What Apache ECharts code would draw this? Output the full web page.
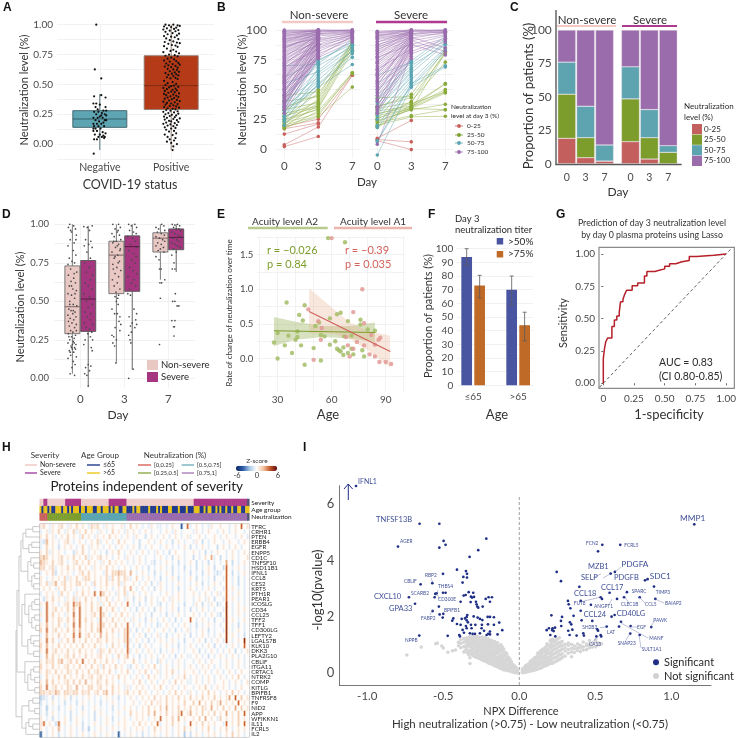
<!DOCTYPE html>
<html>
<head>
<meta charset="utf-8">
<style>html,body{margin:0;padding:0;background:#fff}#main{width:739px;height:738px}</style>
<script src="https://cdn.jsdelivr.net/npm/echarts@6/dist/echarts.min.js"></script>
</head>
<body>
<div id="main"></div>
<script>
// colours used in several panels
const RED = '#C8605C', GREEN = '#7C9D2C', TEAL = '#5CA5B2', PURPLE = '#9A6CAD'
const NAVY = '#1F2F86', FONT = 'Lato, "Open Sans", sans-serif'

// A: jitter as [offset from category, value]
const aBoxes = [[1, -0.05, 0.14, 0.21, 0.28, 0.42], [2, -0.05, 0.29, 0.49, 0.74, 1.0]]
const aNegative = [[-.05,1],[-.07,.625],[.02,.55],[-.085,-.08],[.02,.41],[-.08,.4],[.08,.39],[-.09,.34],[-.05,.34],[0,.33],[.08,.31],[-.06,.31],[-.03,.29],[.05,.28],[.09,.28],[-.08,.27],[-.02,.27],[.03,.26],[.07,.25],[-.05,.25],[.09,.24],[0,.23],[-.09,.22],[-.03,.22],[.04,.22],[.07,.2],[-.06,.2],[-.01,.19],[.05,.18],[-.09,.17],[-.04,.17],[.02,.17],[-.08,.15],[-.02,.15],[.06,.15],[-.06,.13],[.01,.13],[-.09,.11],[-.04,.11],[.04,.1],[.08,.09],[-.07,.08],[0,.08],[.05,.07],[.03,.06],[.07,.06],[-.02,.06],[.06,.05],[-.08,.04],[-.04,.04],[.09,.2],[-.09,.13],[.02,.24]]
const aPositive = [[-.08,1],[-.03,.995],[.03,1],[.09,.995],[.12,.99],[-.1,.985],[.0,.98],[.07,.975],[-.06,.97],[.04,.965],[-.11,.96],[.1,.955],[-.02,.95],[.06,.945],[-.08,.94],[.02,.93],[.11,.925],[-.05,.92],[.08,.91],[-.1,.905],[.0,.9],[.05,.895],[-.07,.885],[.1,.88],[-.02,.87],[.03,.86],[-.09,.855],[.08,.85],[.12,.845],[-.04,.84],[.01,.83],[.06,.825],[-.1,.82],[.09,.815],[-.06,.8],[.03,.79],[-.01,.78],[.07,.775],[-.11,.77],[.11,.76],[-.03,.75],[.05,.745],[-.08,.74],[.09,.735],[.0,.725],[-.05,.715],[.04,.71],[-.1,.7],[.07,.695],[-.02,.69],[.1,.68],[-.07,.675],[.02,.67],[.12,.665],[-.04,.66],[.06,.655],[-.09,.65],[.0,.645],[.09,.64],[-.05,.63],[.03,.625],[.08,.62],[-.02,.61],[.11,.605],[.05,.6],[-.08,.595],[.01,.59],[.07,.585],[-.04,.58],[.1,.575],[.03,.57],[-.06,.56],[.06,.555],[-.01,.55],[.09,.545],[-.1,.53],[.02,.52],[-.05,.51],[.07,.505],[-.08,.495],[.04,.49],[.0,.485],[.1,.48],[-.03,.475],[-.11,.47],[.06,.465],[-.06,.46],[.02,.455],[.08,.45],[-.09,.445],[.0,.44],[.05,.435],[-.04,.43],[.11,.425],[-.1,.42],[.03,.415],[-.07,.41],[.07,.405],[-.01,.4],[.1,.395],[-.05,.39],[.04,.385],[-.09,.38],[.01,.375],[.08,.37],[-.03,.365],[.12,.36],[-.11,.355],[.05,.35],[-.06,.345],[.0,.34],[.09,.335],[-.08,.33],[.03,.325],[-.02,.32],[.07,.315],[-.1,.31],[.11,.305],[-.05,.3],[.02,.295],[.06,.29],[-.07,.285],[-.01,.28],[.09,.275],[-.11,.27],[.04,.265],[-.04,.26],[.1,.255],[-.08,.25],[.01,.245],[.07,.24],[-.02,.235],[-.1,.23],[.05,.225],[-.06,.22],[.12,.215],[.03,.21],[-.09,.205],[.08,.2],[-.03,.195],[.0,.19],[.1,.185],[-.07,.18],[.05,.175],[-.11,.17],[-.01,.165],[.08,.16],[-.05,.155],[.03,.15],[-.09,.14],[.06,.135],[.0,.13],[-.07,.12],[.04,.11],[-.03,.105],[.07,.09],[-.09,.08],[.02,.075],[-.05,.06],[.06,.05],[-.02,.04],[.04,.03],[-.06,.02],[.0,.01],[.08,0],[.03,-.02],[.02,-.05]]

// B: day 0, day 3, optional day 7 per patient, grouped by day 3 class
const nsRed = [[2,10.5],[3.5,18.5,62],[12.5,21],[19,25,62],[17,22]]
const nsGreen = [[18,27,52],[20,28,64],[22,30,63],[17,32,64],[25,33],[23,34,82],[28,35,85],[30,36],[19,37,88],[24,38],[33,39,90],[27,40],[21,42,87],[40,44,90],[35,45],[26,47,84],[45,48],[32,50,90]]
const nsTeal = [[20,52,71],[28,54,77],[25,55,80],[30,57],[35,58,83],[40,60],[23,62,82],[32,64,85],[55,65],[38,66,88],[27,68],[45,70,86],[70,71],[42,72,92],[50,73],[36,74,90],[60,75,88],[33,53]]
const nsPurple = [[30,76],[34,77,90],[38,78],[40,78,95],[42,79],[44,80,92],[37,81],[46,82],[48,82,94],[50,83],[52,84,93],[54,85],[56,85,96],[58,86],[60,86],[61,87,94],[62,88],[63,88],[64,88,96],[65,89],[66,89],[67,90,95],[68,90],[70,91,97],[72,91],[74,92],[75,92,96],[76,92],[78,93],[80,93,98],[81,94],[82,94],[83,95,97],[85,95],[86,95],[88,96,98],[89,96],[90,96],[91,97,99],[92,97],[93,97,98],[94,98],[95,98],[96,98,100],[97,99],[98,99,99],[99,99],[100,100,100],[99,100],[97,100,99],[95,100],[92,99],[90,99,100],[85,98],[43,90],[41,85],[55,95],[47,92],[58,94],[36,88],[39,83],[49,87],[53,91],[57,80],[59,97],[69,84],[71,94],[73,88],[77,96],[79,90],[84,97],[87,93],[33,79],[45,76],[51,78]]
const sRed = [[8,6],[7,-0.5],[9,24]]
const sGreen = [[20,27,27.5],[22,28,33],[24,33,37.5],[26,34,47],[28,34,33],[30,35,48],[32,36,50],[19,37,54.5],[34,39,82],[25,40,73],[36,43,80],[35,46,84],[43,44],[23,33,81],[29,38,48],[18,35,55]]
const sTeal = [[-5,52,69],[7,55,70],[18,52,82],[6,54,84],[20,56],[25,58,85],[30,60],[28,62],[33,64,88],[35,65],[38,67,90],[42,68],[45,70,88],[50,72,92],[62,73],[55,74],[40,74,95]]
const sPurple = [[4,80],[30,76],[33,78],[36,80,90],[42,81],[45,82,92],[48,83],[50,84],[52,85,93],[55,86],[58,87],[60,88,95],[62,88,79],[64,89],[66,90],[68,90],[70,91,96],[72,91,82],[74,92],[76,92],[78,93,98],[80,93],[82,94,85],[84,94],[86,95,97],[88,95],[90,96,99],[92,96],[93,97],[94,97,98],[95,98],[96,98],[97,99,100],[98,99],[99,100,100],[98,100],[95,100,99],[90,99,98],[85,98],[80,97,100],[31,85],[35,91],[40,87],[47,90],[53,95],[57,92],[63,96],[67,84],[73,96],[77,88],[83,98],[87,99]]

// C
const cDays = ['0', '3', '7']
const cNsValues = [[19, 4.5, 2], [33, 15, 0], [24, 23.5, 12], [24, 57, 86]]
const cSevValues = [[16.5, 3.5, 0], [32, 16, 8.5], [24, 21, 5], [27.5, 59.5, 86.5]]
const cLevels = ['0-25', '25-50', '50-75', '75-100']

// D: [day index + dodge, whisker low, q1, median, q3, whisker high]
const dBoxesNs = [[-.18,.03,.29,.465,.73,1],[.82,.105,.55,.8,.89,1],[1.82,.64,.82,.91,.945,1]]
const dBoxesSev = [[.18,-.05,.305,.515,.765,.99],[1.18,.06,.565,.855,.925,1],[2.18,.69,.835,.915,.97,1]]
const dNs0 = [[-.06,1],[.03,.99],[-.09,.98],[.07,.97],[-.02,.95],[.09,.93],[-.05,.9],[.04,.88],[-.1,.86],[.02,.83],[.08,.8],[-.07,.78],[-.01,.76],[.05,.75],[-.04,.71],[.1,.69],[-.09,.67],[.03,.65],[-.03,.63],[.07,.62],[-.07,.6],[.01,.58],[.09,.57],[-.1,.55],[-.02,.54],[.05,.52],[-.06,.5],[.02,.48],[.1,.47],[-.08,.45],[-.03,.44],[.06,.43],[.01,.42],[-.1,.41],[.08,.4],[-.05,.39],[.03,.38],[-.01,.36],[.09,.35],[-.07,.34],[.05,.33],[-.04,.31],[.01,.3],[-.09,.29],[.07,.28],[-.02,.27],[.04,.26],[-.06,.25],[.02,.24],[-.1,.23],[.08,.22],[-.03,.21],[.05,.2],[.0,.19],[-.07,.18],[.03,.17],[-.04,.15],[.09,.14],[-.1,.13],[.02,.11],[.06,.09],[-.01,.07],[-.05,.03],[.05,.02],[-.08,.27],[.04,.23],[-.02,.2],[.07,.19],[-.05,.17],[.0,.22],[.09,.31],[-.09,.37],[.02,.44],[-.06,.48],[.06,.55],[-.02,.6],[.04,.68],[-.1,.74],[.08,.9],[-.04,.96]]
const dSev0 = [[-.1,.985],[-.02,.98],[.09,.99],[.03,.96],[-.06,.9],[.06,.89],[.01,.87],[-.09,.86],[.09,.85],[-.03,.82],[.05,.78],[-.08,.75],[.02,.72],[-.04,.69],[.1,.67],[.05,.64],[-.07,.62],[.0,.6],[.08,.58],[-.1,.55],[.03,.53],[-.04,.5],[.09,.48],[.0,.46],[-.07,.43],[.06,.42],[-.02,.4],[.04,.38],[-.09,.36],[.1,.35],[-.05,.33],[.03,.32],[.08,.3],[-.01,.29],[.05,.27],[-.07,.25],[.1,.25],[-.1,.22],[.07,.2],[.09,.18],[.0,.09],[.06,.08],[-.06,.07],[.03,.05],[-.08,.03],[-.03,.02],[.0,-.05]]
const dNs3 = [[-.08,1],[.05,1],[.09,.98],[-.03,.97],[.02,.95],[-.1,.94],[.07,.93],[-.05,.92],[.1,.9],[.0,.89],[-.08,.88],[.05,.87],[-.02,.85],[.09,.84],[-.1,.82],[.03,.8],[-.05,.78],[.07,.76],[-.08,.74],[.01,.72],[.1,.7],[-.03,.68],[.05,.66],[-.09,.64],[.02,.62],[-.05,.6],[.08,.58],[-.01,.56],[.05,.54],[-.03,.53],[.03,.52],[.0,.5],[.04,.48],[-.1,.45],[-.04,.42],[.02,.42],[.08,.4],[.06,.37],[.1,.35],[-.03,.33],[.08,.31],[-.1,.28],[-.06,.27],[.0,.25],[-.08,.23],[-.04,.21],[-.01,.1],[.04,.96],[-.06,.89],[.02,.86],[.08,.83],[-.03,.79],[.04,.75],[-.07,.71]]
const dSev3 = [[-.08,1],[-.02,.99],[.06,1],[.1,.98],[-.06,.96],[.03,.95],[.09,.94],[-.1,.92],[.01,.91],[.07,.89],[-.04,.87],[.1,.85],[-.08,.83],[.03,.81],[.09,.79],[-.01,.77],[.06,.75],[-.06,.72],[.02,.7],[.1,.68],[-.1,.66],[.04,.64],[-.02,.62],[.08,.6],[-.06,.58],[-.1,.55],[-.04,.54],[.04,.45],[.1,.42],[-.07,.4],[.08,.38],[.0,.36],[.1,.35],[-.04,.34],[.06,.33],[-.02,.3],[-.08,.28],[-.05,.25],[-.03,.23],[.02,.06],[-.08,0]]
const dNs7 = [[-.1,.98],[.03,1],[.08,.99],[-.04,.97],[.1,.96],[-.07,.95],[.02,.94],[.09,.93],[-.1,.92],[-.02,.91],[.05,.9],[.1,.89],[-.06,.88],[.02,.87],[-.1,.86],[.07,.85],[.0,.84],[-.05,.83],[.08,.82],[-.1,.79],[-.03,.77],[.02,.71],[-.02,.71],[.1,.64],[-.01,.62],[.03,.62],[.0,.52],[-.02,.22]]
const dSev7 = [[-.09,1],[-.03,.995],[.03,1],[.08,.99],[-.06,.98],[.0,.97],[.06,.97],[.1,.96],[-.1,.95],[-.03,.94],[.04,.93],[.09,.92],[-.07,.91],[.01,.9],[.06,.89],[-.1,.88],[-.03,.87],[.03,.86],[.09,.85],[-.06,.84],[.0,.82],[-.1,.8],[-.05,.75],[-.03,.71],[-.09,.71],[-.02,.55],[-.08,.5],[-.03,.5],[.02,.47],[.06,.47],[-.1,.375],[-.03,.375],[-.06,.335],[-.04,.335],[-.05,.275]]

// E: age, rate
const eGreen = [[58,1.74],[67.4,1.68],[35,.81],[45,.77],[42,.63],[44,.55],[28,.23],[30,.37],[34,.19],[36,.33],[38,.08],[30,0],[40,.27],[41,.39],[41,.31],[43,.19],[50,.15],[45,-.09],[54,-.03],[51,.47],[53,.52],[59,.58],[63,.64],[65,.66],[59,.2],[63,.14],[64,.12],[65,.1],[66.5,.16],[66.5,.05],[69,.08],[69,.54],[71,.14],[72,.06],[76,.56],[76,.49],[77,.12],[78,.03],[80,.42],[84,.4],[62,.25],[67,.32],[71,.33],[54,.34],[56,.32]]
const eRed = [[60,1.74],[77,1],[47,.71],[72,.67],[78,.51],[50,-.02],[54,.27],[69,.19],[72,.14],[70,.03],[84,.03],[86.5,-.05],[90,-.05],[93,-.08],[81,.06],[87,.3],[86,.27],[84,.2],[78,.19],[74,.24],[68,.31],[52.5,.54],[54.5,.44],[82,.34]]
const eGreenLine = [[28,.4],[84,.375]]
const eRedLine = [[47.5,.68],[92.5,.1]]
const eGreenBand = [[28,.18,.6],[40,.27,.53],[55,.31,.47],[70,.29,.47],[84,.24,.52]]
const eRedBand = [[47.5,.36,1.01],[60,.36,.74],[70,.28,.52],[80,.12,.4],[92.5,-.13,.33]]

// F
const fGroups = [1, 2]
const fOver50 = [94, 70]
const fOver75 = [73, 44]
const fOver50Err = [[88,100],[59,80]]
const fOver75Err = [[64,80.5],[32.5,53.5]]

// G
const rocPath = [[0,0],[0,.19],[.01,.19],[.01,.27],[.02,.27],[.02,.32],[.035,.32],[.035,.35],[.07,.35],[.07,.44],[.09,.44],[.09,.49],[.11,.49],[.11,.52],[.13,.52],[.13,.55],[.14,.55],[.14,.63],[.16,.63],[.16,.65],[.175,.65],[.175,.69],[.19,.69],[.19,.72],[.235,.72],[.235,.755],[.28,.755],[.28,.775],[.335,.775],[.335,.83],[.355,.83],[.355,.865],[.42,.865],[.42,.87],[.44,.87],[.44,.885],[.5,.885],[.5,.905],[.54,.905],[.54,.925],[.59,.925],[.59,.94],[.64,.94],[.64,.95],[.7,.95],[.7,.98],[.76,.98],[.76,.99],[.9,.99],[.9,1],[1,1]]

// H
const heatProteins = ['TFRC','CRHR1','PTEN','ERBB4','EGFR','ENPP5','CD1C','TNFSF10','HSD11B1','IFNL1','CCL8','CES2','KRT5','PTH1R','PEAR1','ICOSLG','CD34','CCL25','TFF2','TFF1','CD300LG','LEFTY2','LGALS7B','KLK10','DKK3','PLA2G10','CBLIF','ITGA11','CRTAC1','NTRK2','COMP','KITLG','BPIFB1','TNFRSF8','F9','NID2','APP','WFIKKN1','IL11','FCRL5','IL2']
const heatScale = {'.':0.15, a:.9, b:1.7, c:2.6, d:4, e:5.2, x:-.7, y:-1.3, z:-2, w:-5}
const heatRows = [
"ab.xa.ab.x a.b.a.xbab .xa.a..ax. b.a.x.xa.x x.x.a..w.d x.a.x.xa.. a..x.a.d.a",
"x.axa.b.xa .bxa.b.a.x a.x.b.a.xa .a.x.a.x.. x.a.xa.x.. .xa.x.a..x .a.x.a..x.",
"a.b.ax.a.b .a.xb.a.xa .a.b.a.x.a .xa..y.a.x .a.x.a.x.a x..a.x..a. x.a..x.a.x",
"xyc.a.x.ab .x.a.x.a.b x.a.x.b.a. .x.y..a.x. a.x.y.a.x. .xa.y.x.a. .x.a..x.a.",
"x.b.a.y.a. a.x.b.xa.a .x.a.x.a.x .a.y.x.a.. x.a.x.x.a. y.x.a.x..y .a.x.a.x..",
"a.bxa.a.x. .ya.b.x.a. x.y.a.b.x. a.x.a.x.xa .x.y.a..x. .a.x.y.x.a ..x.a.x.a.",
"bcb.a.ab.a .b.a.bxa.a b.a.x.a.xa .x.a.x..x. a.x.y.a.x. .y.x.a.cx. y.x.a.x..a",
"cba.b.ab.x .ab.a.b.a. xa.b.a.a.x .x.a.x.xy. x.a.x.y.x. a.y.x.y.x. x.c.y.x.a.",
"bb.abx.a.b .a.b.a.xa. a.b.a.x.a. x.a.x.y.x. a.x.y.x.y. x.y.x.a.y. .yd.x.a.x.",
"x.a.by.a.a .x.ab.b.a. .xb.bbcbb. c.x.a.x.y. x.a.y.x.x. y.x.y.a.xy x.d.y.x.a.",
"a.x.a.a.bx a.b.abb.a. a.bxb.b.ba x.b.x.a.x. y.x.a.y.x. a.y.x.x.y. .xd.x.y.x.",
"a.bxac.ab. a.bb.a.xb. a.b.a.bxa. .a.x.a.y.x a.x.x.a.x. x.a.y.x.a. x.d.x.y.x.",
".a.a.xa.b. a.x.a.a.x. a.a.x.a.b. c.x.a.x.y. a.x.x.y.x. a.x.x.a.x. .xd.a.x.x.",
"x.a.a.xb.a .xa.b.a.d. db.a.xa.bx .a.x.a.x.. x.a.x.a.x. .a.x.a.x.a x.d.x.a.x.",
".ya.b.a.xa .bxa.b.a.x a.b.x.a.xa .y.a.y.a.x .a.xa.a.x. .x.a.xa.y. .xd.a.x.x.",
"a.d.a.x.ab .dbc.a.b.a xa.b.a.a.d .x.y.x.a.x y.x.a.x.y. .xa.y.xa.y x.e.x.a.x.",
"x.d.ab.a.b .c.d.a.b.a d.a.b.x.a. x.y.a.x.y. a.x.a.y.x. y.x.a.x.x. .xe.x.a.a.",
"a.d.b.a.xa .d.d.a.ab. db.x.a.b.a .x.a.x.y.. x.y.x.a.x. .a.x.x.a.x y.e.x.a.x.",
"x.d.a.ba.b .c.d.b.a.x d.a.b.a.a. xa.x.y.a.x .a.x.y.x.. d.x.a.x.y. .xe.a.x.a.",
"a.c.a.b.xa .d.d.a.b.a db.a.b.a.d .x.a.x.x.y x.a.x.x.a. x.y.x.a.x. x.e.x.y.x.",
"b.d.ab.a.b .c.c.a.b.b d.a.b.a.bd x.y.x.a.x. .a.x.y.x.a x.x.a.y.x. .xe.x.a.x.",
"x.c.a.b.a. .d.d.ab.a. c.b.a.x.bd .x.a.y.x.a x.y.x.a.x. y.x.a.x.x. a.e.a.x.y.",
"a.d.b.xa.b .c.a.b.a.b a.b.a.a.bd x.a.x.y.x. a.x.a.x.y. .x.a.y.x.a .xe.x.a.e.",
"b.c.a.b.a. a.a.b.a.b. a.x.b.a.xd .x.y.a.x.. x.a.x.y.x. a.x.x.a.y. x.x.a.x.d.",
"a.d.ab.a.b .a.b.a.a.x ba.b.a.a.d x.a.x.a.x. y.x.a.x.x. .a.y.x.a.x .x.a.y.x.a",
"x.c.b.a.ab .b.a.b.a.a b.a.x.b.ac .x.y.x.a.x .a.x.y.a.x x.a.x.y.x. a.x.a.x.x.",
"a.bab.bc.a b.b.d.a.b. a.b.a.x.a. .b.x.a.x.y a.x.x.a.x. .x.a.x.a.. x.a.x.a.x.",
"b.a.b.a.ab .a.b.a.b.a xb.a.b.a.x y.a.x.a.b. x.a.x.a.x. a.x.a.a.x. x.a.x.a.x.",
"a.ba.b.a.b a.b.a.b.ab .a.b.x.a.b .x.a.b.x.a x.a.b.x.a. .a.x.a.x.a .x.a.x.a..",
"x.b.a.b.b. a.a.b.ab.a b.a.a.b.a. x.a.x.b.a. x.a.x.a.b. x.a.x.a.x. a.x.a.b.x.",
"a.c.b.a.ab .b.b.c.a.b a.b.a.x.a. .a.b.x.a.x .a.x.b.a.x x.a.x.a.x. .a.x.a.x.a",
"b.d.ab.a.b a.c.a.bb.a b.a.b.a.xa x.a.a.x.a. b.x.a.x.a. .x.a.b.x.a .a.x.x.a..",
"bbabacb.bb abb.bab.ab .bc.b.a.ab .a.b.a.x.a .x.a.b.a.x a.x.a.b.a. x.a.b.a.x.",
"zyx.y.x.a. y.x.x.a.x. x.a.x.y.x. a.x.a.a.b. a.b.a.b.a. b.a.b.a.b. a.ac.d.b.a",
"y.x.a.x.y. x.y.a.x.x. y.x.a.x.x. .a.x.a.b.a a.b.a.a.b. .b.c.a.b.a c.a.a.d.a.",
"x.z.x.y.x. a.x.y.x.a. x.x.y.x.a. a.x.a.b.a. b.c.a.b.a. b.a.ba.c.a .b.a.c.b.a",
"x.y.a.x.x. y.x.a.x.y. a.x.x.a.x. b.a.a.b.c. a.b.a.bd.a c.a.b.a.b. a.c.a.b.d.",
"a.x.y.x.a. y.a.x.x.y. x.a.y.x.a. x.a.a.x.a. d.a.b.c.a. .a.b.c.a.x b.a.a.b.a.",
"ad.a.yd.a. x.a.y.x.a. x.a.x.a.a. .a.b.a.a.d x.a.b.a.x. d.a.b.a.a. .xd.a.b.d.",
"a.x.a.c.x. a.x.y.z.x. a.x.a.x.a. x.a.a.x.b. a.a.x.a.b. a.x.a.b.x. a.b.x.a.a.",
"w.x.a.y.x. a.x.a.x.a. x.a.x.w.x. a.x.y.x.a. x.a.x.a.z. y.a.x.a.a. x.a.b.a.x."
]
const annRows = ['Severity', 'Age group', 'Neutralization']
const annSeverity = [['p',2],['m',2],['p',9],['m',8],['p',14],['m',9],['p',34],['m',27]]
const annNeutral = [['r',4],['g',17],['t',23],['v',61]]
const annAge = 'ynyynynnyyynyynynyyynyynyyynnyynyyynynyynnyynnnynyynnnnynnnynynnnyynnnynnnynnnyyynnynyynnynynnynnynnyynnyy'
const annColors = {p:'#EFCDCB', m:'#AE3A88', y:'#E9C31C', n:'#1F3A8C', r:RED, g:GREEN, t:TEAL, v:PURPLE}
// dendrogram brackets: row a, height a, row b, height b, merge height
const dendro = [[0,0,1,0,7],[.5,7,2,0,14],[3,0,4,0,8],[3.5,8,5,0,11],[1.25,14,4.25,11,17],[7,0,8,0,6],[6,0,7.5,6,9],[9,0,10,0,5],[11,0,12,0,6],[9.5,5,11.5,6,8],[6.75,9,10.5,8,12],[2.75,17,8.6,12,19],[14,0,15,0,5],[14.5,5,16,0,8],[17,0,18,0,5],[19,0,20,0,4],[17.5,5,19.5,4,8],[15.25,8,18.5,8,11],[13,0,16.9,11,15],[22,0,23,0,6],[21,0,22.5,6,9],[24,0,25,0,6],[21.75,9,24.5,6,12],[15,15,23,12,18],[5.7,19,19,18,21],[27,0,28,0,6],[29,0,30,0,5],[27.5,6,29.5,5,9],[31,0,32,0,5],[28.5,9,31.5,5,12],[26,0,30,12,15],[12.3,21,28,15,23],[33,0,34,0,7],[35,0,36,0,5],[33.5,7,35.5,5,11],[38,0,39,0,7],[37,0,38.5,7,11],[37.75,11,40,0,14],[34.5,11,38.8,14,18],[20,23,36.6,18,24]]

// I: significant proteins
const volcSig = [[-1.074,6.65],[-.656,5.31],[-.526,5.31],[-.798,4.5],[-.498,4.7],[-.485,4.56],[-.526,4.46],[-.217,4.78],[-.27,4.37],[-.327,4.13],[-.502,3.53],[-.41,3.68],[-.351,3.63],[-.344,3.53],[-.344,3.4],[-.368,3.42],[-.373,3.22],[-.649,3.16],[-.572,3.2],[-.544,2.84],[-.553,2.82],[-.502,2.86],[-.485,2.86],[-.557,2.7],[-.726,2.7],[-.686,2.47],[-.57,2.21],[-.529,2.37],[-.524,2.09],[-.5,2.11],[-.504,1.98],[-.658,1.34],[-.471,1.33],
[-.366,2.76],[-.353,2.78],[-.333,2.88],[-.318,2.72],[-.303,2.86],[-.298,2.71],[-.311,2.69],[-.386,2.54],[-.32,2.53],[-.285,2.54],[-.276,2.37],[-.241,2.37],[-.221,2.64],[-.202,2.7],[-.18,2.7],[-.193,2.54],[-.281,2.45],[-.27,2.33],[-.342,2.07],[-.346,2],[-.357,1.95],[-.434,1.95],[-.441,1.87],[-.379,1.93],[-.346,1.88],[-.338,1.81],[-.3,2.02],[-.274,1.98],[-.259,1.93],[-.243,1.89],[-.208,2],[-.193,2],[-.167,1.99],[-.132,1.8],[-.246,1.72],[-.206,1.74],[-.167,1.72],[-.112,1.53],[-.41,1.75],[-.386,1.72],[-.351,1.68],[-.318,1.72],[-.373,1.54],[-.364,1.44],[-.325,1.42],[-.307,1.4],[-.292,1.4],[-.259,1.42],[-.215,1.36],[-.204,1.4],[-.193,1.38],[-.143,1.38],[-.395,1.36],[-.39,1.31],[-.314,1.6],[-.346,1.6],[-.248,1.6],[-.289,1.72],[-.232,1.51],[-.193,1.48],
[1.151,5.29],[.546,4.56],[.518,4.33],[.664,4.56],[.246,3.6],[.274,3.27],[.601,3.54],[.629,3.6],[.827,3.3],[.844,3.34],[.886,3.08],[.395,3.07],[.594,2.86],[.708,2.88],[.689,2.7],[.792,2.7],[.895,2.64],[.535,2.7],[.544,2.64],[.643,2.64],[.32,2.57],[.325,2.45],[.404,2.57],[.471,2.43],[.336,2.31],[.404,2.22],[.211,2.06],[.357,2.04],[.281,2],[.274,1.86],[.41,1.88],[.48,1.86],[.607,2.01],[.627,2.07],[.333,1.81],[.342,1.74],[.276,1.68],[.669,1.83],[.732,1.68],[.656,1.66],[.575,1.66],[.868,1.64],[.513,1.56],[.518,1.51],[.195,1.6],[.18,1.53],[.219,1.6],[.235,1.62],[.217,1.53],[.226,1.5],[.204,1.36],[.237,1.31],[.322,1.51],[.349,1.55],[.331,1.36],[.377,1.34],[.421,1.42],[.425,1.34],[.507,1.31],[.535,1.36],[.539,1.31],[.73,1.41],[.792,1.36]]
// not significant: x followed by the y values read at that x
const volcGray = [
[-.74,.65],[-.645,.93],[-.55,1.05],[-.54,1.07],[-.51,.97],[-.5,.9],[-.47,.75],[-.44,.8],[-.42,.83],
[-.4,1.1,.98],[-.385,.91,1.06,1.19],[-.365,.76,.94,1.1,1.23],[-.345,.74,.91,1.03,1.14,1.26],[-.325,.35,.55,.71,.83,.96,1.09,1.21,1.3],[-.305,.63,.76,.87,1.01,1.13,1.24,1.33],
[-.285,.57,.71,.83,.94,1.07,1.19,1.31],[-.262,.53,.64,.79,.91,1.03,1.15,1.25],[-.243,.47,.61,.73,.85,.97,1.07,1.21,1.29],[-.222,.43,.54,.67,.81,.93,1.05,1.15,1.26],[-.203,.37,.51,.63,.73,.87,.99,1.09,1.22],
[-.183,.33,.44,.59,.71,.81,.95,1.07,1.17],[-.162,.27,.41,.52,.65,.75,.89,1,1.13],[-.143,.23,.34,.47,.57,.71,.83,.94,1.08],[-.121,.17,.29,.39,.53,.64,.79,.9,1.01],[-.103,.13,.23,.36,.47,.61,.71,.86],
[-.082,.1,.21,.29,.43,.54,.69],[-.061,.08,.16,.25,.37,.51],[-.042,.05,.11,.23,.31],[-.02,.02,.09,.2],
[.02,.02,.08,.15],[.041,.04,.11,.17,.27],[.062,.07,.14,.25,.33],[.083,.09,.19,.27,.38,.46],[.102,.12,.21,.34,.43,.56],[.121,.15,.28,.37,.51,.61,.71],
[.143,.19,.33,.43,.57,.67,.81],[.161,.25,.35,.49,.59,.75,.87],[.182,.29,.43,.54,.69,.81,.97,1.05],[.203,.35,.47,.61,.74,.91,1.01,1.16],[.221,.37,.53,.67,.83,.95,1.11,1.21],[.242,.43,.57,.73,.87,1.03,1.17],
[.263,.49,.66,.79,.96,1.09,1.26],[.282,.56,.69,.86,.99,1.13],[.301,.61,.79,.91,1.03],[.322,.71,.84,.99,1.07],[.344,.59,.76,.89,1.03],[.362,.74,.87,.97],[.383,.81,.91,1.04],
[.402,.77,.91,.99],[.421,.83,.94,1.11],[.443,.84,.98,1.04],[.462,.91,1.01,1.16],[.481,.93,1.05],[.503,.94,1.11,1.19],[.522,1.01,1.07],[.541,1.05],
[-.352,.83,.97,1.18],[-.333,.66,.79,1,1.12,1.24],[-.314,.68,.81,.93,1.06,1.18,1.28],[-.295,.6,.73,.9,1.04,1.16,1.27],[-.274,.55,.67,.77,.88,.99,1.11,1.23,1.3],[-.252,.5,.6,.7,.82,.93,1.05,1.17,1.27],[-.232,.45,.57,.69,.76,.89,1.01,1.11,1.24],[-.212,.4,.48,.59,.71,.84,.96,1.07,1.19],[-.193,.35,.47,.55,.67,.78,.91,1.03,1.13],[-.172,.3,.39,.49,.62,.73,.85,.97,1.1],[-.152,.25,.37,.45,.56,.69,.79,.91,1.03],[-.132,.2,.31,.43,.51,.61,.74,.85,.97],[-.112,.15,.26,.33,.44,.55,.67,.8,.93],[-.092,.12,.18,.27,.39,.5,.63,.75],[-.072,.09,.17,.24,.33,.46,.58],[-.052,.06,.13,.19,.28,.41],[-.031,.03,.08,.16,.26],[-.012,.01,.05,.12],
[.031,.03,.09,.2],[.052,.06,.13,.21,.3],[.072,.08,.16,.25,.34,.42],[.092,.1,.2,.3,.41,.5],[.112,.14,.25,.36,.47,.58],[.132,.17,.3,.41,.53,.65,.75],[.152,.22,.34,.46,.58,.71,.84],[.172,.27,.39,.52,.64,.78,.92],[.192,.32,.45,.57,.71,.85,.99],[.212,.36,.5,.64,.78,.93,1.06,1.19],[.232,.4,.55,.7,.85,.99,1.14],[.252,.46,.61,.76,.91,1.06,1.22],[.272,.52,.67,.82,.97,1.1]]

// labels on the volcano plot, page position
const volcLabels = [['TNFSF13B',376,520,7.5],['AGER',400,541,4.8],['CBLIF',404,581,4.8],['RBP2',425,575,4.8],['THBS4',438,586.7,4.8],['SCARB2',411,593,4.8],['CD300E',438,599,4.8],['CXCL10',374,596.7,7.5],['GPA33',389,609,7.5],['BPIFB1',444,610,4.8],['FABP2',421,618.7,4.8],['NPPB',405,640.7,4.8],['IFNL1',358,481.7,7],
['MMP1',680,518.3,8.3],['FCN2',586,543.7,4.8],['FCRL5',624.3,545,4.8],['MZB1',588,567,7.5],['PDGFA',621.3,564,8.3],['SELP',581,578,7.5],['PDGFB',614,578,7.5],['SDC1',649.7,576,8.3],['CCL17',601,587.3,7.5],['SPARC',631.7,591,4.8],['TIMP3',655.7,592,4.8],['CCL18',574,594,7.5],['FUT8',573.7,603,4.8],['ANGPT1',594,606,4.8],['CLEC1B',621,604.3,4.8],['CCL5',645,604.3,4.8],['BAIAP2',665,603.3,4.8],['CCL24',583.7,615,7.5],['CD40LG',616.7,613.7,7.5],['PAWK',653.3,620.3,4.8],['SH2B3',582.3,627.7,4.8],['EGF',637,627,4.8],['LAT',607,632,4.8],['MANF',649.3,638.3,4.8],['CA13',589,644,4.8],['SNAP23',617.7,643.3,4.8],['SULT1A1',641.7,649.7,4.8]]
const volcLeaders = [[615,572,621,567],[610,574,603,578],[601,574,593,577.5],[601,597,580,602],[612,599,609,605],[625,597,629,603],[639,597,645,603],[655,599,664,603],[621,623,648,638],[631,627,637,627],[651,627,654,621],[639,635,641,648],[630,633,625,642],[600,635,591,643],[607,627,600,627.5],[433,583,431,578],[436,596,438,590],[433,609,430,615],[440,599,436,593]]

const chart = echarts.init(document.getElementById('main'), null, {width: 739, height: 738})
const grids = [], xAxes = [], yAxes = [], series = [], gfx = []

function addGrid(x1, y1, x2, y2, opt) {
    grids.push(Object.assign({left: x1, top: y1, width: x2 - x1, height: y2 - y1}, opt || {}))
    return grids.length - 1
}
function valAxis(gi, min, max, lines, labels, fmt, size, margin, opt) {
    return Object.assign({
        type: 'value', gridIndex: gi, min, max, axisLine: {show: false},
        axisTick: {show: false, customValues: lines},
        splitLine: {show: true, lineStyle: {color: '#EFEFEF', width: 0.8}},
        axisLabel: {customValues: labels, formatter: fmt, fontSize: size, margin, color: '#4A4A4A', fontFamily: FONT}
    }, opt || {})
}
function T(x, y, text, size, color, align, rot, weight, family) {
    gfx.push({type: 'text', x, y, rotation: rot || 0, silent: true, z: 50, style: {
        text, fontSize: size, fill: color || '#2A2A2A', align: align || 'left', verticalAlign: 'middle',
        fontFamily: family || FONT, fontWeight: weight || 'normal'}})
}
function rule(x1, y1, x2, y2, color, width) {
    gfx.push({type: 'line', silent: true, z: 40, shape: {x1, y1, x2, y2}, style: {stroke: color, lineWidth: width}})
}
function rect(x, y, w, h, color) {
    gfx.push({type: 'rect', silent: true, z: 40, shape: {x, y, width: w, height: h}, style: {fill: color}})
}
function dot(x, y, r, color) {
    gfx.push({type: 'circle', silent: true, z: 40, shape: {cx: x, cy: y, r}, style: {fill: color}})
}
// box with whisker and no caps, values come through the axes
function boxSeries(gi, data, fill, stroke, medColor, px, zOrder) {
    series.push({
        type: 'custom', coordinateSystem: 'cartesian2d', xAxisIndex: gi, yAxisIndex: gi, silent: true, z: zOrder || 2,
        clip: false, data,
        encode: {x: 0, y: [1, 2, 3, 4, 5]},
        renderItem(params, api) {
            const i = params.dataIndex
            const x = api.value(0)
            const lo = api.coord([x, api.value(1)]), q1 = api.coord([x, api.value(2)]), med = api.coord([x, api.value(3)])
            const q3 = api.coord([x, api.value(4)]), hi = api.coord([x, api.value(5)])
            const f = Array.isArray(fill) ? fill[i] : fill, s = Array.isArray(stroke) ? stroke[i] : stroke
            const m = Array.isArray(medColor) ? medColor[i] : medColor
            return {type: 'group', children: [
                {type: 'line', shape: {x1: lo[0], y1: lo[1], x2: hi[0], y2: hi[1]}, style: {stroke: s, lineWidth: 0.9}},
                {type: 'rect', shape: {x: q3[0] - px / 2, y: q3[1], width: px, height: q1[1] - q3[1]}, style: {fill: f, stroke: s, lineWidth: 0.9}},
                {type: 'line', shape: {x1: med[0] - px / 2, y1: med[1], x2: med[0] + px / 2, y2: med[1]}, style: {stroke: m, lineWidth: 0.9}}
            ]}
        }
    })
}
function scatter(gi, data, color, size, opacity) {
    series.push({type: 'scatter', xAxisIndex: gi, yAxisIndex: gi, data, silent: true, clip: false, z: 3, symbolSize: size,
        itemStyle: {color, opacity: opacity === undefined ? 1 : opacity}})
}
function ribbon(gi, band, color) {
    series.push({type: 'custom', coordinateSystem: 'cartesian2d', xAxisIndex: gi, yAxisIndex: gi, silent: true, z: 2, data: [band[0]],
        renderItem(params, api) {
            const up = band.map(b => api.coord([b[0], b[2]]))
            const dn = band.slice().reverse().map(b => api.coord([b[0], b[1]]))
            return {type: 'polygon', shape: {points: up.concat(dn)}, style: {fill: color, opacity: 0.3}}
        }})
}

// ---- A ----
let g = addGrid(57, 24.7, 214, 159)
xAxes.push(valAxis(g, 0.4, 2.6, [1, 2], [1, 2], v => ({1: 'Negative', 2: 'Positive'}[v]), 10.5, 3))
yAxes.push(valAxis(g, -0.125, 1, [-.125, 0, .125, .25, .375, .5, .625, .75, .875, 1], [0, .25, .5, .75, 1], v => v.toFixed(2), 10, 4))
boxSeries(g, aBoxes, ['#5DA5B2', '#B53A17'], ['#3C6068', '#8F7A72'], ['#2F5A62', '#7A2A14'], 54)
scatter(g, aNegative.map(p => [1 + p[0], p[1]]), '#111', 2.2)
scatter(g, aPositive.map(p => [2 + p[0], p[1]]), '#111', 2.2)
T(3, 8, 'A', 12, '#111', 'left', 0, 'bold', 'Liberation Sans')
T(24, 90, 'Neutralization level (%)', 11, '#333', 'center', Math.PI / 2)
T(130, 185, 'COVID-19 status', 12.5, '#333', 'center')

// ---- B ----
function bPanel(x0, groups) {
    const gi = addGrid(x0 - 8.3, 30, x0 + 75.7, 158.5)
    xAxes.push(valAxis(gi, -.244, 2.226, [0, 1, 2], [0, 1, 2], v => ['0', '3', '7'][v], 11.5, 2))
    yAxes.push(valAxis(gi, -8, 100, [0, 12.5, 25, 37.5, 50, 62.5, 75, 87.5, 100], x0 < 300 ? [0, 25, 50, 75, 100] : [], v => String(v), 12, 9))
    groups.forEach(gr => gr[0].forEach(p => {
        series.push({type: 'line', xAxisIndex: gi, yAxisIndex: gi, silent: true, clip: false, z: 3, symbol: 'circle', symbolSize: 3.6,
            data: p.map((y, i) => [i, y]),
            lineStyle: {color: gr[1], width: 0.75, opacity: 0.6}, itemStyle: {color: gr[1]}})
    }))
}
bPanel(284.3, [[nsRed, RED], [nsGreen, '#8AAA3C'], [nsTeal, TEAL], [nsPurple, PURPLE]])
bPanel(377.3, [[sRed, RED], [sGreen, '#8AAA3C'], [sTeal, TEAL], [sPurple, PURPLE]])
T(217, 8, 'B', 12, '#111', 'left', 0, 'bold', 'Liberation Sans')
T(242, 90, 'Neutralization level (%)', 11, '#333', 'center', Math.PI / 2)
T(319, 15, 'Non-severe', 11.5, '#333', 'center')
T(411, 15, 'Severe', 11.5, '#333', 'center')
rule(282, 22, 353, 22, '#F2C9C4', 2.4)
rule(376, 22, 447, 22, '#B03A8E', 2.4)
T(367, 182, 'Day', 11.5, '#333', 'center')
T(451, 107, 'Neutralization', 6.5)
T(451, 116, 'level at day 3 (%)', 6.5)
cLevels.forEach((lv, i) => {
    const y = [126, 135, 143, 152][i], c = [RED, GREEN, TEAL, PURPLE][i]
    rule(455, y, 463, y, c, 0.8)
    dot(459, y, 1.9, c)
    T(467, y, lv, 6.5)
})

// ---- C ----
function cPanel(x1, values, withLabels) {
    const gi = addGrid(x1, 10, x1 + 56.7, 163.7)
    xAxes.push({type: 'category', gridIndex: gi, data: cDays, axisLine: {show: false}, axisTick: {show: false}, axisLabel: {fontSize: 10.5, color: '#4A4A4A', margin: 8, fontFamily: FONT}})
    yAxes.push(valAxis(gi, 0, 115, [], withLabels ? [0, 25, 50, 75, 100] : [], v => String(v), 12, 5.5, {splitLine: {show: false}}))
    values.forEach((vals, i) => {
        series.push({type: 'bar', xAxisIndex: gi, yAxisIndex: gi, stack: 's' + gi, data: vals, barWidth: 18, silent: true,
            itemStyle: {color: ['#C35F5C', '#7C9D2C', '#5DA4B0', '#9A6CAB'][i], borderColor: '#EDE6EE', borderWidth: 0.4}})
    })
}
cPanel(557.3, cNsValues, true)
cPanel(621, cSevValues, false)
T(510, 8, 'C', 12, '#111', 'left', 0, 'bold', 'Liberation Sans')
rule(556, 10, 556, 164.5, '#5A5A5A', 1.4)
rule(555.3, 164.5, 681.7, 164.5, '#5A5A5A', 1.4)
T(529, 96, 'Proportion of patients (%)', 13, '#333', 'center', Math.PI / 2)
T(587, 20, 'Non-severe', 11.5, '#333', 'center')
T(650, 20, 'Severe', 11.5, '#333', 'center')
rule(557, 26, 616, 26, '#F2C9C4', 2)
rule(622, 26, 677, 26, '#B03A8E', 2)
T(618, 192, 'Day', 12, '#333', 'center')
T(684, 106, 'Neutralization', 8)
T(684, 117, 'level (%)', 8)
cLevels.forEach((lv, i) => {
    rect(692, 124 + i * 10.6, 10, 10.2, ['#C35F5C', '#7C9D2C', '#5DA4B0', '#9A6CAB'][i])
    T(704, 129 + i * 10.6, lv, 8)
})

// ---- D ----
g = addGrid(54, 224.3, 195, 388)
xAxes.push(valAxis(g, -.598, 2.607, [0, 1, 2], [0, 1, 2], v => ['0', '3', '7'][v], 11.5, 5))
yAxes.push(valAxis(g, -.0625, 1, [0, .125, .25, .375, .5, .625, .75, .875, 1], [0, .25, .5, .75, 1], v => v.toFixed(2), 9.5, 5))
boxSeries(g, dBoxesNs, '#E9C7C3', '#6E6E6E', '#6E5A5A', 15)
boxSeries(g, dBoxesSev, '#A5357F', '#555', '#4A1A3C', 15)
const dDodged = [[dNs0, -.18], [dSev0, .18], [dNs3, .82], [dSev3, 1.18], [dNs7, 1.82], [dSev7, 2.18]]
dDodged.forEach(d => scatter(g, d[0].map(p => [d[1] + p[0], p[1]]), '#4A4A4A', 1.7))
T(2, 215, 'D', 12, '#111', 'left', 0, 'bold', 'Liberation Sans')
T(20, 307, 'Neutralization level (%)', 11, '#333', 'center', Math.PI / 2)
T(118, 415, 'Day', 12, '#333', 'center')
rect(147, 360, 11, 10, '#E9C7C3')
rect(147, 372, 11, 10, '#A5357F')
T(161, 365, 'Non-severe', 9.5)
T(161, 377, 'Severe', 9.5)

// ---- E ----
g = addGrid(256.7, 236.7, 405, 391.7)
xAxes.push(valAxis(g, 18.4, 100.7, [20, 30, 40, 50, 60, 70, 80, 90, 100], [30, 60, 90], v => String(v), 10, 3))
yAxes.push(valAxis(g, -.48, 1.76, [-.25, 0, .25, .5, .75, 1, 1.25, 1.5, 1.75], [0, .5, 1, 1.5], v => v.toFixed(1), 9.5, 3.5))
ribbon(g, eGreenBand, '#7C9D2C')
ribbon(g, eRedBand, '#E8B18E')
scatter(g, eGreen, '#A3BD66', 4.4, 0.85)
scatter(g, eRed, '#E29A95', 4.4, 0.85)
;[[eGreenLine, '#7C9D2C'], [eRedLine, '#CF5F59']].forEach(l => {
    series.push({type: 'line', xAxisIndex: g, yAxisIndex: g, data: l[0], symbol: 'none', silent: true, z: 4, lineStyle: {color: l[1], width: 1.1}})
})
T(217, 215, 'E', 12, '#111', 'left', 0, 'bold', 'Liberation Sans')
T(285, 222, 'Acuity level A2', 10, '#333', 'center')
T(373, 222, 'Acuity level A1', 10, '#333', 'center')
rule(248, 228, 327.7, 228, '#B7CB8E', 2.6)
rule(334, 228, 412, 228, '#EBB4AC', 2.6)
T(229, 313, 'Rate of change of neutralization over time', 8, '#333', 'center', Math.PI / 2)
T(267, 250, 'r = \u22120.026', 11, '#7C9D2C')
T(267, 264, 'p = 0.84', 11, '#7C9D2C')
T(345, 250, 'r = \u22120.39', 11, '#D2625C')
T(345, 264, 'p = 0.035', 11, '#D2625C')
T(328, 415, 'Age', 13, '#333', 'center')

// ---- F ----
g = addGrid(456.7, 248.7, 533, 385.3)
const fDodge = 0.144
xAxes.push(valAxis(g, .634, 2.33, [1, 2], [1, 2], v => ({1: '\u226465', 2: '>65'}[v]), 10, 6, {splitLine: {show: false}}))
yAxes.push(valAxis(g, 0, 100, [0, 10, 20, 30, 40, 50, 60, 70, 80, 90, 100], [0, 10, 20, 30, 40, 50, 60, 70, 80, 90, 100], v => String(v), 10, 3.5))
;[[fOver50, fOver50Err, -fDodge, '#4A55A2'], [fOver75, fOver75Err, fDodge, '#C06A27']].forEach(s => {
    series.push({type: 'bar', xAxisIndex: g, yAxisIndex: g, barWidth: 10.7, barGap: '-100%', silent: true, itemStyle: {color: s[3]},
        data: s[0].map((v, i) => [fGroups[i] + s[2], v])})
    series.push({type: 'custom', coordinateSystem: 'cartesian2d', xAxisIndex: g, yAxisIndex: g, silent: true, z: 5, clip: false,
        data: s[1].map((e, i) => [fGroups[i] + s[2], e[0], e[1]]),
        renderItem(params, api) {
            const a = api.coord([api.value(0), api.value(1)]), b = api.coord([api.value(0), api.value(2)])
            const st = {stroke: '#5A5A5A', lineWidth: 0.8}
            return {type: 'group', children: [
                {type: 'line', shape: {x1: a[0], y1: a[1], x2: b[0], y2: b[1]}, style: st},
                {type: 'line', shape: {x1: a[0] - 2, y1: a[1], x2: a[0] + 2, y2: a[1]}, style: st},
                {type: 'line', shape: {x1: b[0] - 2, y1: b[1], x2: b[0] + 2, y2: b[1]}, style: st}
            ]}
        }})
})
T(428, 215, 'F', 12, '#111', 'left', 0, 'bold', 'Liberation Sans')
T(455, 219, 'Day 3', 9.5)
T(455, 230, 'neutralization titer', 9.5)
rect(496.7, 238, 6.5, 6.5, '#4A55A2')
rect(496.7, 251, 6.5, 6.5, '#C06A27')
T(508, 242, '>50%', 10)
T(508, 254, '>75%', 10)
T(428, 316, 'Proportion of patients (%)', 11, '#333', 'center', Math.PI / 2)
T(497, 415, 'Age', 13, '#333', 'center')

// ---- G ----
g = addGrid(599, 247.3, 735.3, 388.3, {show: true, borderColor: '#8A8A8A', borderWidth: 1.2, backgroundColor: 'transparent'})
xAxes.push(valAxis(g, -.035, 1.067, [0, .25, .5, .75, 1], [0, .25, .5, .75, 1], v => (v === 0 ? '0' : v.toFixed(2)), 10, 5, {splitLine: {show: false}, axisTick: {show: true, length: 2, customValues: [0, .25, .5, .75, 1], lineStyle: {color: '#666'}}}))
yAxes.push(valAxis(g, -.039, 1.052, [0, .25, .5, .75, 1], [0, .25, .5, .75, 1], v => v.toFixed(2), 10, 4, {splitLine: {show: false}, axisTick: {show: true, length: 2, customValues: [0, .25, .5, .75, 1], lineStyle: {color: '#666'}}}))
series.push({type: 'line', xAxisIndex: g, yAxisIndex: g, data: [[-.03, -.03], [1.05, 1.05]], symbol: 'none', silent: true, lineStyle: {color: '#333', width: 0.8, type: [3, 2.5]}})
series.push({type: 'line', xAxisIndex: g, yAxisIndex: g, data: rocPath, symbol: 'none', silent: true, z: 4, lineStyle: {color: '#B5202A', width: 1.5}})
T(556, 215, 'G', 12, '#111', 'left', 0, 'bold', 'Liberation Sans')
T(652, 223, 'Prediction of day 3 neutralization level', 8.8, '#333', 'center')
T(652, 235, 'by day 0 plasma proteins using Lasso', 8.8, '#333', 'center')
T(563, 323, 'Sensitivity', 11, '#333', 'center', Math.PI / 2)
T(659, 363, 'AUC = 0.83', 10.5)
T(659, 377, '(CI 0.80-0.85)', 10.5)
T(669, 415, '1-specificity', 13, '#333', 'center')

// ---- H: annotation bars ----
g = addGrid(39.7, 499, 249.3, 520.5)
const annCols = annAge.split('').map((c, i) => i)
xAxes.push({type: 'category', gridIndex: g, data: annCols, show: false})
yAxes.push({type: 'category', gridIndex: g, data: annRows, inverse: true, position: 'right',
    axisLine: {show: false}, axisTick: {show: false}, axisLabel: {fontSize: 6.5, margin: 2, color: '#222', interval: 0, fontFamily: FONT}})
const annSevCol = annSeverity.flatMap(r => Array(r[1]).fill(r[0]))
const annNeuCol = annNeutral.flatMap(r => Array(r[1]).fill(r[0]))
const annData = []
annCols.forEach(c => {
    annData.push({value: [c, 0, 1], itemStyle: {color: annColors[annSevCol[c]]}})
    annData.push({value: [c, 1, 1], itemStyle: {color: annColors[annAge[c]]}})
    annData.push({value: [c, 2, 1], itemStyle: {color: annColors[annNeuCol[c]]}})
})
series.push({type: 'heatmap', xAxisIndex: g, yAxisIndex: g, data: annData, silent: true, progressive: 0})

// ---- H: heatmap, each reading drawn as a 1px stripe with faint sides ----
g = addGrid(39.7, 524, 249.3, 737, {show: true, borderColor: '#8A8A8A', borderWidth: 1, backgroundColor: 'transparent'})
const heatCols = []
for (let c = 0; c < 210; c++) heatCols.push(c)
xAxes.push({type: 'category', gridIndex: g, data: heatCols, show: false})
yAxes.push({type: 'category', gridIndex: g, data: heatProteins, inverse: true, position: 'right',
    axisLine: {show: false}, axisTick: {show: false}, axisLabel: {fontSize: 6, margin: 2, color: '#222', interval: 0, fontFamily: FONT}})
const heatData = []
heatRows.forEach((row, r) => row.replace(/ /g, '').split('').forEach((ch, c) => {
    const v = heatScale[ch]
    heatData.push([c * 3, r, v * 0.45], [c * 3 + 1, r, v], [c * 3 + 2, r, v * 0.45])
}))
series.push({type: 'heatmap', xAxisIndex: g, yAxisIndex: g, data: heatData, silent: true, progressive: 0})
const heatSeriesIndex = series.length - 1

// dendrogram
g = addGrid(16, 524, 39.7, 737)
xAxes.push({type: 'value', gridIndex: g, min: 0, max: 24, inverse: true, show: false})
yAxes.push({type: 'value', gridIndex: g, min: 0, max: 41, inverse: true, show: false})
series.push({type: 'custom', coordinateSystem: 'cartesian2d', xAxisIndex: g, yAxisIndex: g, silent: true, clip: false, data: dendro,
    encode: {x: 1, y: 0},
    renderItem(params, api) {
        const ya = api.value(0) + .5, xa = api.value(1), yb = api.value(2) + .5, xb = api.value(3), xm = api.value(4)
        return {type: 'polyline', shape: {points: [api.coord([xa, ya]), api.coord([xm, ya]), api.coord([xm, yb]), api.coord([xb, yb])]},
            style: {stroke: '#BDBDBD', lineWidth: 0.8, fill: 'none'}}
    }})

T(2, 448, 'H', 12, '#111', 'left', 0, 'bold', 'Liberation Sans')
T(45, 455.7, 'Severity', 8, '#333', 'center')
rule(25, 465, 37, 465, '#EFCDCB', 1.6)
T(40, 465, 'Non-severe', 7)
rule(25, 473, 37, 473, '#B05AAE', 1.6)
T(40, 473, 'Severe', 7)
T(100, 455, 'Age Group', 8, '#333', 'center')
rule(87, 465, 100, 465, '#1F3A8C', 1.4)
T(103, 465, '\u226465', 7)
rule(87, 473, 100, 473, '#EEC91A', 1.4)
T(103, 473, '>65', 7)
T(175, 455.7, 'Neutralization (%)', 8, '#333', 'center')
rule(138, 465, 151, 465, '#D0483F', 1.2)
T(154, 465, '[0,0.25]', 5.8)
rule(138, 473, 151, 473, GREEN, 1.2)
T(154, 473, '[0.25,0.5]', 5.8)
rule(181.7, 465, 194, 465, TEAL, 1.2)
T(197, 465, '[0.5,0.75]', 5.8)
rule(181.7, 473, 194, 473, PURPLE, 1.2)
T(197, 473, '[0.75,1]', 5.8)
T(257, 461, 'Z-score', 6.5, '#333', 'center')
T(237, 476, '-6', 7.5, '#333', 'center')
T(257, 476, '0', 7.5, '#333', 'center')
T(278, 476, '6', 7.5, '#333', 'center')
T(146.7, 487, 'Proteins independent of severity', 13.5, '#222', 'center')

// ---- I ----
g = addGrid(339.3, 485.7, 711, 685)
const iLine = {show: true, onZero: false, lineStyle: {color: '#777', width: 1}}
xAxes.push(valAxis(g, -1.184, 1.261, [-1, -.5, 0, .5, 1], [-1, -.5, 0, .5, 1], v => v.toFixed(1), 11.5, 5, {splitLine: {show: false}, axisLine: iLine}))
yAxes.push(valAxis(g, -.415, 6.66, [0, 2, 4, 6], [0, 2, 4, 6], v => String(v), 13, 5, {splitLine: {show: false}, axisLine: iLine}))
const grayPts = volcGray.flatMap(c => c.slice(1).map(y => [c[0], y]))
scatter(g, grayPts, '#D6D6D6', 3.6)
scatter(g, volcSig, NAVY, 2.7)
series.push({type: 'line', xAxisIndex: g, yAxisIndex: g, data: [[0, -.415], [0, 6.33]], symbol: 'none', silent: true, lineStyle: {color: '#888', width: 0.8, type: [3, 2]}})
T(303, 448, 'I', 12, '#111', 'left', 0, 'bold', 'Liberation Sans')
T(318, 590, '-log10(pvalue)', 13, '#333', 'center', Math.PI / 2)
T(521, 711, 'NPX Difference', 11, '#333', 'center')
T(530, 724, 'High neutralization (>0.75) - Low neutralization (<0.75)', 11.5, '#333', 'center')
dot(656, 662.3, 3, NAVY)
dot(656, 676, 3, '#D2D2D2')
T(664, 662.3, 'Significant', 11)
T(664, 676, 'Not significant', 11)
rule(348.3, 500, 348.3, 484, NAVY, 1)
rule(344, 489, 348.3, 484, NAVY, 1)
rule(352.6, 489, 348.3, 484, NAVY, 1)
volcLabels.forEach(l => T(l[1], l[2], l[0], l[3], '#3F4F96'))
volcLeaders.forEach(l => rule(l[0], l[1], l[2], l[3], '#5A659F', 0.4))

chart.setOption({
    animation: false,
    textStyle: {fontFamily: FONT},
    grid: grids, xAxis: xAxes, yAxis: yAxes, series,
    visualMap: {
        type: 'continuous', seriesIndex: heatSeriesIndex, min: -6, max: 6, orient: 'horizontal', left: 236, top: 465.7,
        itemWidth: 5.3, itemHeight: 41, padding: 0, text: null, calculable: false, realtime: false, showLabel: false,
        textStyle: {fontSize: 0},
        inRange: {color: ['#0E2563', '#2A5CA8', '#A9C8E6', '#FFFFFF', '#F2C4A0', '#C2552A', '#5E0A12']}
    },
    graphic: {elements: gfx}
})
</script>
</body>
</html>
